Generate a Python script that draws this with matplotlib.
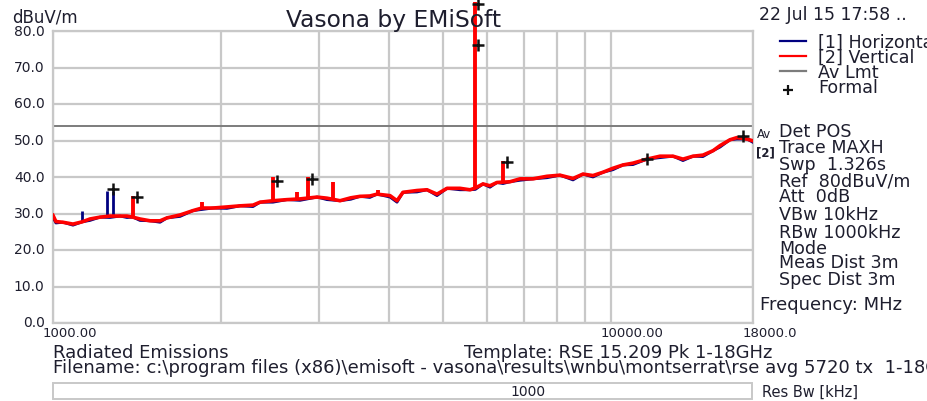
import numpy as np
import matplotlib
matplotlib.use('Agg')
import matplotlib.pyplot as plt
from matplotlib.lines import Line2D
from matplotlib.patches import Rectangle
from matplotlib.transforms import ScaledTranslation

# ---------------- data ----------------
freq_mhz = [1000, 1012, 1042, 1086, 1127, 1165, 1214, 1265, 1319, 1357, 1391, 1432,
            1493, 1556, 1601, 1690, 1783, 1850, 1936, 2051, 2165, 2284, 2351, 2480,
            2628, 2773, 2975, 3100, 3271, 3420, 3552, 3700, 3811, 4021, 4139, 4242,
            4495, 4684, 4882, 5088, 5368, 5595, 5720, 5903, 6076, 6254, 6411, 6600,
            6877, 7257, 7689, 8112, 8560, 8920, 9297, 9688, 10097, 10523, 10966,
            11620, 12260, 12935, 13480, 14050, 14640, 15260, 15710, 16370, 16850,
            17560, 18000]

vertical_dbuv = [29.5, 27.8, 27.6, 27.1, 27.7, 28.5, 29.0, 29.3, 29.3, 29.3, 29.0, 28.5,
                 28.0, 28.0, 28.8, 29.6, 30.8, 31.5, 31.5, 31.8, 32.1, 32.3, 33.1, 33.5,
                 33.8, 34.0, 34.5, 34.2, 33.5, 34.3, 34.7, 34.8, 35.3, 34.9, 33.5, 35.8,
                 36.3, 36.5, 35.3, 36.9, 36.9, 36.5, 37.0, 38.1, 37.6, 38.5, 38.6, 38.7,
                 39.5, 39.5, 40.2, 40.5, 39.6, 40.8, 40.4, 41.3, 42.4, 43.3, 43.8,
                 44.9, 45.7, 45.7, 44.9, 45.7, 46.0, 47.2, 48.6, 50.2, 50.8,
                 50.4, 49.9]

horizontal_dbuv = [29.0, 27.4, 27.6, 26.8, 27.7, 28.1, 29.0, 28.9, 29.3, 28.9, 29.0, 28.1,
                   28.0, 27.6, 28.8, 29.2, 30.8, 31.1, 31.5, 31.4, 32.1, 31.9, 33.1, 33.1,
                   33.8, 33.6, 34.5, 33.8, 33.5, 33.9, 34.7, 34.4, 35.3, 34.5, 33.1, 35.8,
                   35.9, 36.5, 34.9, 36.9, 36.5, 36.5, 36.6, 38.1, 37.2, 38.5, 38.2, 38.7,
                   39.1, 39.5, 39.8, 40.5, 39.2, 40.8, 40.0, 41.3, 42.0, 43.3, 43.4,
                   44.9, 45.3, 45.7, 44.5, 45.7, 45.6, 47.2, 48.2, 50.2, 50.4,
                   50.4, 49.5]

vert_spike_freq = [1391, 1850, 2480, 2739, 2866, 3178, 3826, 5720, 6411]
vert_spike_peak = [34.8, 33.1, 40.0, 35.9, 40.0, 38.6, 36.5, 88.0, 44.5]

horiz_spike_freq = [1127, 1250, 1281]
horiz_spike_peak = [30.7, 36.2, 36.2]

formal_freq = [1281, 1415, 2522, 2914, 5783, 5783, 6518, 11620, 17270]
formal_level = [36.7, 34.5, 38.9, 39.5, 76.2, 87.5, 44.0, 44.9, 51.2]

av_limit_dbuv = 54.0

y_tick_values = [0, 10, 20, 30, 40, 50, 60, 70, 80]
y_tick_labels = ['0.0', '10.0', '20.0', '30.0', '40.0', '50.0', '60.0', '70.0', '80.0']
x_tick_values = [1000, 10000, 18000]
x_tick_labels = ['1000.00', '10000.00', '18000.0']
x_grid_minor = [2000, 3000, 4000, 5000, 6000, 7000, 8000, 9000]

settings_lines = ['Det POS', 'Trace MAXH', 'Swp  1.326s', 'Ref  80dBuV/m', 'Att  0dB',
                  'VBw 10kHz', 'RBw 1000kHz', 'Mode', 'Meas Dist 3m', 'Spec Dist 3m']

# ---------------- figure ----------------
W, H = 928, 402
plt.rcParams['font.family'] = ['DejaVu Sans']
fig = plt.figure(figsize=(W / 100, H / 100), dpi=100)
fig.patch.set_facecolor('white')

def fx(x):
    return x / W

def fy(y):
    return 1 - y / H

TXT = '#1e1e2e'
GRID = '#c8c8c8'

ax_l, ax_r, ax_t, ax_b = 53, 753, 32, 324
ax = fig.add_axes([fx(ax_l), fy(ax_b), (ax_r - ax_l) / W, (ax_b - ax_t) / H])
ax.set_xscale('log')
ax.set_xlim(1000, 18000)
ax.set_ylim(0, 80)

for s in ax.spines.values():
    s.set_color(GRID)
    s.set_linewidth(1.6)

ax.set_yticks(y_tick_values)
ax.set_yticklabels(y_tick_labels, fontsize=10, color=TXT)
ax.set_xticks(x_tick_values)
ax.set_xticklabels(x_tick_labels, fontsize=9.5, color=TXT, ha='left')
ax.set_xticks(x_grid_minor, minor=True)
ax.xaxis.set_minor_formatter(matplotlib.ticker.NullFormatter())
ax.tick_params(axis='both', which='both', length=0)
ax.tick_params(axis='y', pad=6)
ax.tick_params(axis='x', pad=2.5)
ax.grid(True, which='both', color=GRID, linewidth=1.6, zorder=0)
ax.set_axisbelow(True)

for lab in ax.get_xticklabels():
    lab.set_transform(lab.get_transform() + ScaledTranslation(-10 / 100, 0, fig.dpi_scale_trans))
for lab in ax.get_yticklabels():
    lab.set_transform(lab.get_transform() + ScaledTranslation(0, 2 / 100, fig.dpi_scale_trans))

# limit line
ax.axhline(av_limit_dbuv, color='#7c7c7c', linewidth=1.4, zorder=2)

# traces
ax.plot(freq_mhz, horizontal_dbuv, color='#000080', linewidth=2.0, zorder=3)
hb = np.interp(np.log(horiz_spike_freq), np.log(freq_mhz), horizontal_dbuv)
ax.vlines(horiz_spike_freq, hb, horiz_spike_peak, color='#000080', linewidth=2.0, zorder=3)

ax.plot(freq_mhz, vertical_dbuv, color='#ff0000', linewidth=2.6, zorder=4)
vb = np.interp(np.log(vert_spike_freq), np.log(freq_mhz), vertical_dbuv)
ax.vlines(vert_spike_freq, vb, vert_spike_peak, color='#ff0000', linewidth=2.8,
          zorder=4, clip_on=False)

ax.plot(formal_freq, formal_level, linestyle='none', marker='+', markersize=9,
        markeredgewidth=1.8, color='#101010', zorder=5, clip_on=False)

# ---------------- texts ----------------
def t(x, y, s, size, **kw):
    kw.setdefault('color', TXT)
    kw.setdefault('va', 'center')
    kw.setdefault('ha', 'left')
    fig.text(fx(x), fy(y), s, fontsize=size, **kw)

t(12, 17, 'dBuV/m', 12)
t(394, 20, 'Vasona by EMiSoft', 16.8, ha='center')
t(759, 15, '22 Jul 15 17:58 ..', 12.5)

# legend
leg_items = [('[1] Horizontal', '#000080', 43), ('[2] Vertical', '#ff0000', 58),
             ('Av Lmt', '#7c7c7c', 73)]
for label, col, yy in leg_items:
    fig.add_artist(Line2D([fx(780), fx(806)], [fy(yy - 1), fy(yy - 1)], color=col,
                          linewidth=1.6, transform=fig.transFigure))
    t(818, yy, label, 12.6)
fig.add_artist(Line2D([fx(788)], [fy(91)], marker='+', markersize=7, markeredgewidth=1.6,
                      color='#101010', transform=fig.transFigure))
t(818, 88, 'Formal', 12.6)

# settings block
t(757, 135, 'Av', 8.5)
t(756, 153, '[2]', 8.5, fontweight='bold')
set_y = [132, 148, 165, 182, 197, 215, 233, 249, 263, 280]
for s, yy in zip(settings_lines, set_y):
    t(779, yy, s, 12.6)
t(760, 305, 'Frequency: MHz', 13)

# bottom
t(53, 353, 'Radiated Emissions', 13)
t(464, 353, 'Template: RSE 15.209 Pk 1-18GHz', 13)
t(53, 368, 'Filename: c:\\program files (x86)\\emisoft - vasona\\results\\wnbu\\montserrat\\rse avg 5720 tx  1-18GHz', 13)
fig.add_artist(Rectangle((fx(53), fy(400)), (752 - 53) / W, (400 - 384) / H,
                         transform=fig.transFigure, facecolor='white',
                         edgecolor=GRID, linewidth=1.4))
t(528, 392, '1000', 10, ha='center')
t(762, 392, 'Res Bw [kHz]', 10.5)

fig.savefig('out.png', dpi=100)
